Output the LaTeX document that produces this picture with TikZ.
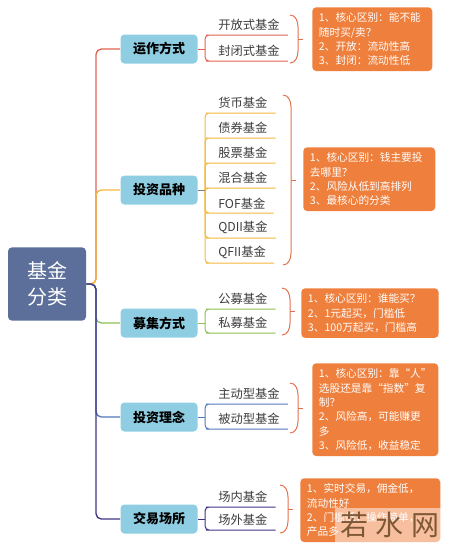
\documentclass[tikz,border=0pt]{standalone}
\usepackage{fontspec}
\setmainfont{Noto Sans CJK SC}
\usetikzlibrary{positioning}
\definecolor{rootblue}{RGB}{91,111,154}
\definecolor{topicblue}{RGB}{143,206,226}
\definecolor{noteorange}{RGB}{239,127,60}
\definecolor{bracered}{RGB}{226,112,78}
\definecolor{redline}{RGB}{226,98,80}
\definecolor{yellowline}{RGB}{242,185,60}
\definecolor{greenline}{RGB}{140,192,84}
\definecolor{blueline}{RGB}{82,120,188}
\definecolor{purpleline}{RGB}{62,52,132}
\definecolor{leaftext}{RGB}{60,60,60}

\tikzset{
    root/.style={fill=rootblue, rounded corners=3pt, text=white, align=center,
        minimum width=58.5pt, minimum height=55pt, font=\fontsize{15}{20}\selectfont},
    topic/.style={fill=topicblue, rounded corners=3pt, minimum width=57.75pt,
        minimum height=21.75pt, font=\fontsize{9.75}{11}\selectfont\bfseries},
    leaf/.style={anchor=south west, inner xsep=6pt, inner ysep=3pt, text=leaftext,
        font=\fontsize{9.2}{11}\selectfont},
    note/.style={anchor=north west, fill=noteorange, rounded corners=3pt, text=white,
        align=left, inner xsep=5pt, inner ysep=4pt, font=\fontsize{8}{10.8}\selectfont},
    link/.style={line width=1pt, rounded corners=4pt},
    leaflink/.style={line width=0.75pt, rounded corners=3pt},
    brace/.style={draw=bracered, line width=0.75pt},
}

\begin{document}
\begin{tikzpicture}[x=0.75pt, y=-0.75pt]
    \useasboundingbox (0,0) rectangle (450,547);
    % Root and topics
    \node[root] (root) at (47,284) {基金\\分类};
    \coordinate (hub) at (96,284);
    \node[topic] (mode) at (159,49) {运作方式};
    \node[topic] (kind) at (159,190) {投资品种};
    \node[topic] (raise) at (159,323) {募集方式};
    \node[topic] (idea) at (159,417) {投资理念};
    \node[topic] (venue) at (159,519) {交易场所};
    \draw[link, redline] (root.east) -- (hub) |- (mode.west);
    \draw[link, yellowline] (root.east) -- (hub) |- (kind.west);
    \draw[link, greenline] (root.east) -- (hub) |- (raise.west);
    \draw[link, blueline] (root.east) -- (hub) |- (idea.west);
    \draw[link, purpleline] (root.east) -- (hub) |- (venue.west);

    % Operating mode
    \coordinate (jmode) at (205,49);
    \node[leaf] (open) at (210,35) {开放式基金};
    \node[leaf] (closed) at (210,61) {封闭式基金};
    \foreach \leafname in {open, closed}
        \draw[leaflink, redline] (jmode) |- (\leafname.south west) -- (\leafname.south east);
    \draw[leaflink, redline] (mode.east) -- (jmode);

    % Asset types
    \coordinate (jkind) at (205,190);
    \foreach \leafname/\leaftxt [count=\i from 0] in {cash/货币基金, bond/债券基金,
            stock/股票基金, mixed/混合基金, fof/FOF基金, qdii/QDII基金, qfii/QFII基金} {
        \node[leaf] (\leafname) at (210,{113+25*\i}) {\leaftxt};
        \draw[leaflink, yellowline] (jkind) |- (\leafname.south west) -- (\leafname.south east);
    }
    \draw[leaflink, gray] (kind.east) -- (jkind);

    % Fund raising
    \coordinate (jraise) at (205,323);
    \node[leaf] (public) at (210,309) {公募基金};
    \node[leaf] (private) at (210,333) {私募基金};
    \foreach \leafname in {public, private}
        \draw[leaflink, greenline] (jraise) |- (\leafname.south west) -- (\leafname.south east);
    \draw[leaflink, greenline] (raise.east) -- (jraise);

    % Investment idea
    \coordinate (jidea) at (205,417);
    \node[leaf] (active) at (210,404) {主动型基金};
    \node[leaf] (passive) at (210,429) {被动型基金};
    \foreach \leafname in {active, passive}
        \draw[leaflink, blueline] (jidea) |- (\leafname.south west) -- (\leafname.south east);
    \draw[leaflink, blueline] (idea.east) -- (jidea);

    % Trading venue
    \coordinate (jvenue) at (205,519);
    \node[leaf] (onfloor) at (210,507) {场内基金};
    \node[leaf] (offfloor) at (210,530) {场外基金};
    \foreach \leafname in {onfloor, offfloor}
        \draw[leaflink, purpleline] (jvenue) |- (\leafname.south west) -- (\leafname.south east);
    \draw[leaflink, purpleline] (venue.east) -- (jvenue);

    % Braces
    \foreach \bx/\bt/\bb in {290/15/63, 283/95/265, 282/288/335, 290/383/433, 280/485/533} {
        \draw[brace] (\bx,\bt) to[out=0, in=90] (\bx+8,\bt+12) -- (\bx+8,\bb-12)
            to[out=-90, in=0] (\bx,\bb);
        \draw[brace] (\bx+8,{(\bt+\bb)/2}) -- (\bx+13,{(\bt+\bb)/2});
    }

    % Notes
    \node[note, text width=80pt] (modenote) at (312,7)
        {1、核心区别：能不能\\随时买/卖？\\2、开放：流动性高\\3、封闭：流动性低};
    \node[note, text width=89pt] (kindnote) at (303,147)
        {1、核心区别：钱主要投\\去哪里？\\2、风险从低到高排列\\3、最核心的分类};
    \node[note, text width=93pt] (raisenote) at (301,288)
        {1、核心区别：谁能买？\\2、1元起买，门槛低\\3、100万起买，门槛高};
    \node[note, text width=84.5pt] (ideanote) at (312,363)
        {1、核心区别：靠“人”\\选股还是靠“指数”复\\制？\\2、风险高，可能赚更\\多\\3、风险低，收益稳定};
    \node[note, text width=95pt] (venuenote) at (300,478)
        {1、实时交易，佣金低，\\流动性好\\2、门槛低，操作简单，\\产品多};

    % Watermark
    \fill[white, opacity=0.5] (335,508) rectangle (450,547);
    \node[text=brown!55!black, opacity=0.85, font=\fontsize{21}{21}\selectfont] (mark)
        at (390,525) {若\hspace{6pt}水\hspace{6pt}网};
\end{tikzpicture}
\end{document}
